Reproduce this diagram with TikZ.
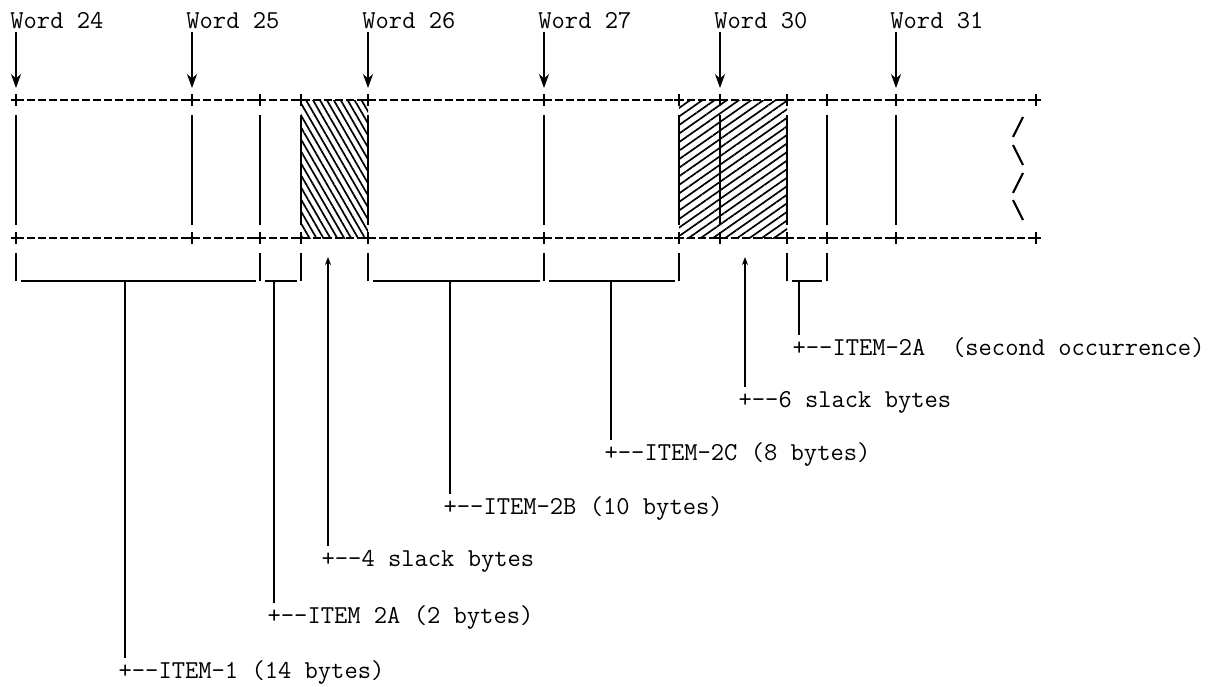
\documentclass[tikz,border=0pt]{standalone}
\usetikzlibrary{arrows.meta,patterns.meta,calc}
\tikzset{
  >={Stealth[length=7pt,width=5pt]},
  ln/.style={line width=1.05pt},
  dashrow/.style={ln,dash pattern=on 4pt off 1.5pt},
  word/.style={font=\fontsize{12.9pt}{14pt}\selectfont\ttfamily,inner sep=0pt,anchor=base west},
  lbl/.style={word,text height=10pt},
  hatchL/.style={pattern={Lines[angle=-60,distance=3pt,line width=0.85pt]}},
  hatchR/.style={pattern={Lines[angle=35,distance=3.5pt,line width=0.85pt]}},
  upar/.style={ln,->,>={Stealth[length=4pt,width=3pt]}},
}
\newcommand\leader{+-\kern0pt-}

\begin{document}
\begin{tikzpicture}[x=0.5pt,y=-0.5pt]
\useasboundingbox (0,0) rectangle (1220,686);
% slack bytes
\fill[hatchL] (301,100) rectangle (368,238);
\fill[hatchR] (679,100) rectangle (787,238);
% storage rows
\draw[dashrow] (16,100) -- (1036,100);
\draw[dashrow] (16,238) -- (1036,238);
\foreach \x in {16,192,260,301,368,544,679,720,787,827,896,1036}{
  \draw[ln] (\x,94) -- (\x,106) (\x-5,100) -- (\x+5,100);
  \draw[ln] (\x,232) -- (\x,244) (\x-5,238) -- (\x+5,238);}
\foreach \x in {16,192,260,301,368,544,679,720,787,827,896}
  \draw[ln] (\x,115) -- (\x,225);
% break
\draw[ln] (1013,137) -- (1023,117) (1013,145) -- (1023,165)
  (1013,193) -- (1023,173) (1013,200) -- (1023,220);
% words
\foreach \x/\n in {16/24,192/25,368/26,544/27,720/30,896/31}{
  \node[word] (w\n) at (\x-6,28) {Word \n};
  \coordinate (t\n) at (\x,88);
  \draw[ln,->] ([yshift=-2pt]w\n.base -| t\n) -- (t\n);}
% brackets
\foreach \x in {16,260,301,368,544,679,787,827}
  \draw[ln] (\x,253) -- (\x,281);
\draw[ln] (21,281) -- (256,281) (265,281) -- (297,281) (373,281) -- (540,281)
  (549,281) -- (675,281) (792,281) -- (822,281);
% items
\foreach \n/\x/\y/\t in {1/125/678/{ITEM-1 (14 bytes)},2/274/623/{ITEM 2A (2 bytes)},
    4/450/514/{ITEM-2B (10 bytes)},5/611/460/{ITEM-2C (8 bytes)},
    7/799/355/{ITEM-2A~~(second occurrence)}}{
  \coordinate (b\n) at (\x,281);
  \node[lbl] (l\n) at (\x-6.75,\y) {\leader\t};
  \draw[ln] (b\n) -- (b\n |- l\n.north);}
% slack
\foreach \n/\x/\y/\t in {3/328/566/{4 slack bytes},6/745/407/{6 slack bytes}}{
  \coordinate (a\n) at (\x,257);
  \node[lbl] (l\n) at (\x-6.75,\y) {\leader\t};
  \draw[upar] (a\n |- l\n.north) -- (a\n);}
\end{tikzpicture}
\end{document}
